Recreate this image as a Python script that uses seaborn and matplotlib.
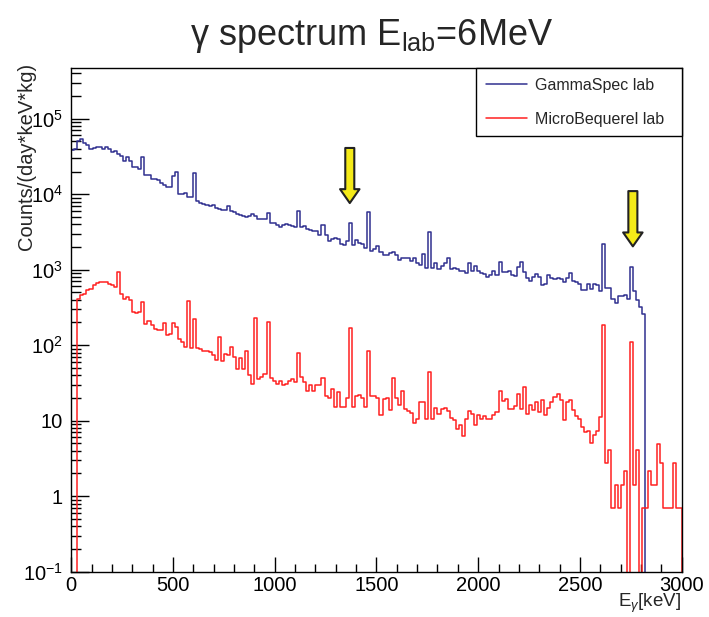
import numpy as np
import pandas as pd
import seaborn as sns
import matplotlib.pyplot as plt
from matplotlib.ticker import FixedLocator, FixedFormatter, LogLocator, MultipleLocator, NullFormatter

# 200 bins of 15 keV, 0 - 3000 keV
bin_width = 15
n_bins = 200

# counts/(day*keV*kg) per bin
gammaspec_lab = [
    39000, 39500, 50000, 54500, 48000, 44600, 39500, 41000, 42800, 42000,
    40300, 42000, 39500, 36400, 37000, 34200, 32200, 27900, 31500, 27900,
    23200, 23200, 21900, 31500, 17900, 17900, 15800, 15800, 15300, 14300,
    13200, 12400, 12400, 17500, 19800, 10100, 10100, 10500, 9200, 9200,
    19200, 8080, 7770, 7440, 7300, 7000, 7150, 6590, 6450, 6200,
    6140, 7000, 5960, 5800, 5540, 5380, 5170, 5010, 5170, 5540,
    5170, 4670, 4760, 4670, 5720, 4220, 4220, 3880, 3650, 3880,
    4010, 3880, 3810, 3730, 5960, 3650, 3810, 3440, 3370, 3300,
    3240, 2870, 3880, 2870, 2390, 2540, 2640, 2540, 2220, 2150,
    2390, 4220, 2110, 2480, 2290, 2220, 1950, 5840, 1760, 1870,
    2070, 1720, 1590, 1590, 1690, 1720, 1590, 1340, 1410, 1410,
    1410, 1300, 1440, 1240, 1150, 1640, 1060, 3170, 1060, 1240,
    1020, 1120, 1240, 1410, 1020, 1040, 1020, 975, 955, 917,
    1240, 975, 1120, 955, 917, 880, 795, 863, 975, 845,
    1270, 936, 936, 955, 863, 828, 1100, 1270, 936, 780,
    705, 795, 880, 795, 637, 649, 845, 780, 749, 780,
    764, 690, 780, 899, 719, 690, 649, 541, 541, 649,
    563, 649, 637, 530, 2200, 575, 575, 415, 360, 451,
    451, 469, 407, 1080, 520, 400, 318, 258, 0, 0,
    0, 0, 0, 0, 0, 0, 0, 0, 0, 0,
]

microbequerel_lab = [
    0, 0, 405, 459, 482, 536, 563, 624, 669, 697,
    683, 683, 656, 624, 593, 946, 483, 415, 436, 393,
    276, 268, 272, 375, 190, 210, 184, 166, 158, 158,
    194, 136, 140, 194, 175, 122, 111, 95, 386, 93,
    223, 91, 88, 85, 83, 82, 74, 64, 128, 61,
    76, 74, 95, 70, 49, 67, 49, 85, 40, 31,
    230, 36, 38, 42, 204, 37, 34, 31, 34, 30,
    31, 34, 36, 33, 78, 38, 33, 25, 29.5, 25,
    30, 30, 37, 21, 20, 26, 15, 24, 15, 15,
    20, 170, 15, 21, 22, 20, 15, 85, 21, 21,
    20, 11.8, 19.3, 19.7, 13.8, 37, 19.7, 16, 25, 14.2,
    13.5, 12.8, 9.2, 10.7, 17.8, 17.8, 10.7, 44, 10.7, 14.8,
    12.1, 14.2, 14.8, 13.3, 10.9, 10.3, 7.7, 8.7, 6.3, 10.7,
    13.3, 12.1, 8.7, 11.8, 10.7, 11.6, 10.7, 10.7, 11.8, 13.1,
    25, 18.1, 19.3, 14.5, 14.5, 15.7, 22.6, 14.5, 27.8, 12.4,
    16, 13.8, 17.8, 13.1, 18.7, 11.8, 14.8, 17.8, 20.7, 22.9,
    18.7, 10.2, 17.8, 18.7, 13.8, 11.6, 10.7, 8.3, 7.1, 7.3,
    5.0, 6.4, 7.3, 11.2, 188, 2.76, 4.15, 0.69, 1.40, 0.69,
    1.40, 2.17, 0, 111, 1.40, 4.15, 0, 0.69, 0.69, 2.17,
    1.40, 1.40, 4.9, 2.76, 0.69, 0.69, 0.69, 2.76, 0.69, 0.69,
]

# Na-24 lines marked with arrows
arrow_energy = [1369, 2760]
arrow_tail = [41000, 11000]
arrow_tip = [7640, 2040]

y_ticks = [0.1, 1, 10, 100, 1000, 1e4, 1e5]
y_ticklabels = ['$10^{-1}$', '1', '10', '$10^{2}$', '$10^{3}$', '$10^{4}$', '$10^{5}$']

sns.set_style('ticks')
plt.rcParams['font.family'] = ['Liberation Sans', 'DejaVu Sans']
plt.rcParams['mathtext.fontset'] = 'custom'
plt.rcParams['mathtext.rm'] = 'Liberation Sans'
plt.rcParams['mathtext.it'] = 'Liberation Sans:italic'
plt.rcParams['mathtext.bf'] = 'Liberation Sans:bold'

edges = np.arange(n_bins + 1) * bin_width


def step_frame(counts):
    x = np.concatenate([[0], edges, [edges[-1]]])
    y = np.concatenate([[0], counts, [counts[-1], 0]])
    return pd.DataFrame({'E': x, 'counts': y})


fig = plt.figure(figsize=(7.09, 6.17), dpi=100)
ax = fig.add_axes([0.1004, 0.0734, 0.8611, 0.8164])

sns.lineplot(data=step_frame(gammaspec_lab), x='E', y='counts', ax=ax,
             color='#303090', lw=1.1, drawstyle='steps-post',
             estimator=None, sort=False, label='GammaSpec lab')
sns.lineplot(data=step_frame(microbequerel_lab), x='E', y='counts', ax=ax,
             color='#ff2020', lw=1.1, drawstyle='steps-post',
             estimator=None, sort=False, label='MicroBequerel lab')

ax.set_yscale('log')
ax.set_xlim(0, 3000)
ax.set_ylim(0.1, 4.7e5)

for e, t0, t1 in zip(arrow_energy, arrow_tail, arrow_tip):
    ax.annotate('', xy=(e, t1), xytext=(e, t0),
                arrowprops=dict(width=6.5, headwidth=14, headlength=10, shrink=0,
                                facecolor='#f4ea18', edgecolor='#222222', linewidth=1.5))

ax.xaxis.set_major_locator(MultipleLocator(500))
ax.xaxis.set_minor_locator(MultipleLocator(100))
ax.yaxis.set_major_locator(FixedLocator(y_ticks))
ax.yaxis.set_major_formatter(FixedFormatter(y_ticklabels))
ax.yaxis.set_minor_locator(LogLocator(base=10, subs=np.arange(2, 10)))
ax.yaxis.set_minor_formatter(NullFormatter())

ax.tick_params(which='both', direction='in', top=False, right=False, colors='black',
               labelsize=14.5, width=1.0)
ax.tick_params(axis='x', which='major', length=11, pad=3)
ax.tick_params(axis='x', which='minor', length=5.5)
ax.tick_params(axis='y', which='major', length=13, pad=6)
ax.tick_params(axis='y', which='minor', length=7)
for sp in ax.spines.values():
    sp.set_visible(True)
    sp.set_color('black')
    sp.set_linewidth(1.0)

ax.set_xlabel('')
ax.set_ylabel('')
fig.text(0.037, 1 - 63 / 617, 'Counts/(day*keV*kg)', rotation=90,
         ha='center', va='top', fontsize=14.5)
fig.text(681 / 709, 1 - 607 / 617, 'E$_{\\gamma}$[keV]', ha='right', va='baseline', fontsize=13.5)
fig.text(372 / 709, 1 - 45 / 617, 'γ spectrum E$_{\\mathrm{lab}}$=6MeV',
         ha='center', va='baseline', fontsize=26)

leg = ax.legend(loc='upper left', bbox_to_anchor=(0.663, 1.0, 0.337, 0), mode='expand',
                borderaxespad=0, frameon=True, fancybox=False, edgecolor='black',
                framealpha=1, fontsize=11.5, handlelength=2.6, handletextpad=0.5,
                labelspacing=1.2, borderpad=0.6)
leg.get_frame().set_linewidth(1.0)

plt.savefig('out.png', dpi=100)
